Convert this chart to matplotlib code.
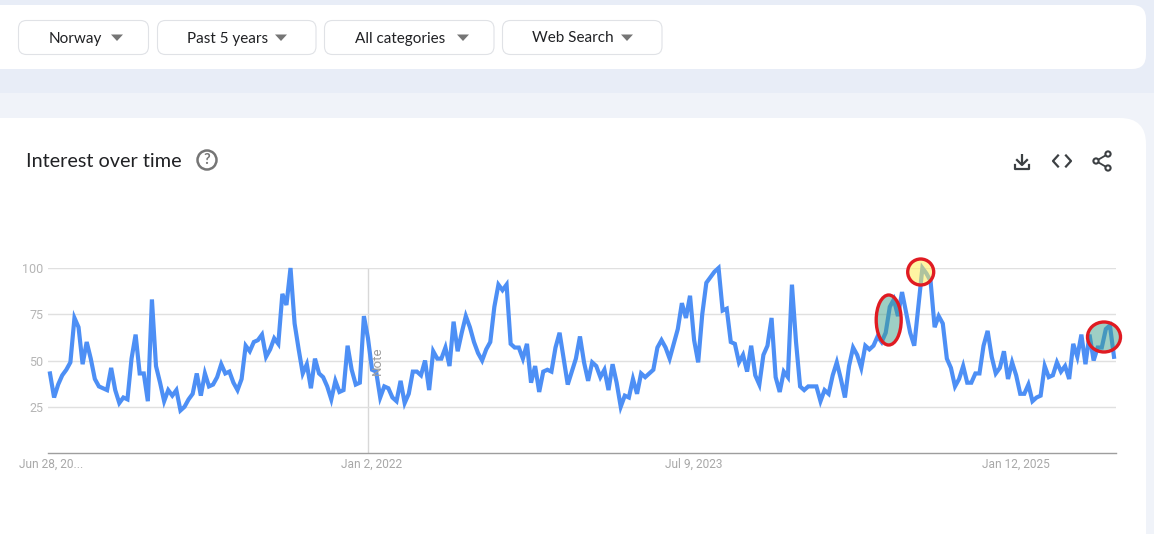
#!/usr/bin/python3

import numpy as np
import matplotlib as mpl
mpl.use('Agg')
import matplotlib.pyplot as plt
from matplotlib.patches import Ellipse, FancyBboxPatch, Polygon, Rectangle, Circle
from matplotlib.transforms import ScaledTranslation

W = 1154
H = 534

interest = [
  43, 30, 37, 42, 45, 49, 73, 68, 48, 60, 51, 40, 36, 35, 34, 46, 34, 27, 30, 29,
  51, 64, 43, 43, 28, 83, 47, 38, 28, 34, 31, 34, 23, 25, 29, 32, 43, 31, 43, 36,
  37, 41, 48, 43, 44, 38, 34, 40, 58, 55, 60, 61, 64, 52, 56, 62, 59, 86, 80, 100,
  70, 56, 43, 48, 35, 51, 43, 41, 36, 29, 39, 33, 34, 58, 45, 37, 38, 74, 62, 45,
  44, 30, 36, 35, 30, 28, 39, 27, 32, 44, 44, 42, 50, 34, 55, 51, 51, 57, 47, 71,
  55, 65, 74, 68, 60, 54, 50, 56, 60, 79, 91, 88, 91, 59, 57, 57, 51, 59, 38, 47,
  33, 44, 45, 44, 57, 65, 51, 37, 44, 51, 63, 49, 39, 49, 47, 41, 45, 34, 48, 38,
  25, 31, 30, 40, 32, 43, 41, 43, 45, 57, 61, 57, 51, 59, 67, 81, 73, 85, 61, 49,
  75, 92, 95, 98, 100, 77, 78, 60, 59, 49, 53, 44, 58, 42, 37, 53, 58, 73, 41, 33,
  44, 41, 91, 60, 36, 34, 36, 36, 36, 28, 34, 32, 42, 49, 40, 30, 47, 57, 53, 46,
  58, 56, 58, 63, 60, 65, 79, 83, 74, 87, 76, 65, 58, 79, 100, 97, 93, 68, 74, 70,
  51, 46, 36, 40, 47, 38, 38, 43, 43, 58, 66, 52, 43, 46, 55, 40, 49, 42, 32, 32,
  37, 28, 30, 31, 47, 41, 42, 49, 44, 47, 40, 59, 52, 64, 48, 64, 50, 57, 57, 67,
  69, 52,
]

y_ticks = [25, 50, 75, 100]
x_tick_weeks = [0, 78, 157, 236]
x_tick_labels = ['Jun 28, 20...', 'Jan 2, 2022', 'Jul 9, 2023', 'Jan 12, 2025']
note_week = 78

filters = ['Norway', 'Past 5 years', 'All categories', 'Web Search']

UI_FONT = 'Lato'
TICK_FONT = 'Roboto'
LINE_BLUE = '#4d8ff5'
GRID = '#e0e0e0'
RED = '#e01b22'

fig = plt.figure(figsize=(W / 100.0, H / 100.0), dpi=100)

# page in pixel coordinates
bg = fig.add_axes([0, 0, 1, 1])
bg.set_xlim(0, W)
bg.set_ylim(H, 0)
bg.axis('off')


def card(ax, x0, y0, x1, y1, r, fc='white', ec='none', lw=1):
  ax.add_patch(FancyBboxPatch((x0 + r, y0 + r), x1 - x0 - 2 * r, y1 - y0 - 2 * r,
    boxstyle='round,pad=%f,rounding_size=%f' % (r, r),
    fc=fc, ec=ec, lw=lw))


bg.add_patch(Rectangle((0, 0), W, 93, fc='#e8edf7', ec='none'))
bg.add_patch(Rectangle((0, 93), W, H - 93, fc='#f0f3f9', ec='none'))
card(bg, -40, 5, 1146, 69, 14)
card(bg, -40, 118, 1146, 600, 26)

# filter buttons
button_edges = [(18.5, 148.5), (157.5, 316), (324.5, 494), (502.5, 662)]
text_x = [75, 228, 400, 573]
arrow_x = [117, 281, 463, 627]
for name, (x0, x1), tx, ax_ in zip(filters, button_edges, text_x, arrow_x):
  card(bg, x0, 20.5, x1, 54.5, 8, fc='white', ec='#e0e2e6', lw=0.8)
  bg.text(tx, 42.5, name, ha='center', va='baseline', fontsize=11, color='#202124',
    family=UI_FONT)
  bg.add_patch(Polygon([(ax_ - 6, 34.5), (ax_ + 6, 34.5), (ax_, 41)], fc='#757575', ec='none'))

bg.text(26.5, 167, 'Interest over time', ha='left', va='baseline', fontsize=14.3,
  color='#202124', family=UI_FONT)
bg.add_patch(Circle((207, 160), 9.5, fc='none', ec='#757575', lw=1.8))
bg.text(207, 160.5, '?', ha='center', va='center', fontsize=10.5, color='#757575',
  family=UI_FONT, fontweight='bold')

# download icon
ICON = '#3c4043'
bg.plot([1022, 1022], [154, 165], color=ICON, lw=1.6, solid_capstyle='butt')
bg.plot([1017, 1022, 1027], [160, 165, 160], color=ICON, lw=1.6)
bg.plot([1015, 1015, 1029, 1029], [165, 169, 169, 165], color=ICON, lw=1.6)
# embed icon
bg.plot([1058, 1053, 1058], [155.5, 161, 166.5], color=ICON, lw=1.6)
bg.plot([1066, 1071, 1066], [155.5, 161, 166.5], color=ICON, lw=1.6)
# share icon
bg.plot([1108, 1096, 1108], [154, 161, 168], color=ICON, lw=1.3)
for cx, cy in [(1108, 154), (1096, 161), (1108, 168)]:
  bg.add_patch(Circle((cx, cy), 2.6, fc='white', ec=ICON, lw=1.5, zorder=3))

# chart area, value 0 sits on the pixel row 453 and value 100 on row 268
X0 = 50.0
X1 = 1114.0
LEFT = 48.0
RIGHT = 1116.0
BOTTOM = 453.0
TOP = 268.0

ax = fig.add_axes([LEFT / W, 1 - BOTTOM / H, (RIGHT - LEFT) / W, (BOTTOM - TOP) / H])
ax.patch.set_alpha(0)
weeks = np.arange(len(interest))
step = (X1 - X0) / (len(interest) - 1)
ax.set_xlim(-(X0 - LEFT) / step, (RIGHT - X0) / step)
ax.set_ylim(0, 100)

for s in ['top', 'left', 'right']:
  ax.spines[s].set_visible(False)
ax.spines['bottom'].set_color('#9e9e9e')
ax.spines['bottom'].set_linewidth(1)

ax.set_yticks(y_ticks)
ax.set_yticklabels([str(v) for v in y_ticks], color='#b5b5b5', fontsize=9, family=TICK_FONT)
ax.set_xticks(x_tick_weeks)
ax.set_xticklabels(x_tick_labels, color='#a8a8a8', fontsize=8.6, family=TICK_FONT)
ax.tick_params(axis='both', length=0)
ax.tick_params(axis='y', pad=3.5)
ax.tick_params(axis='x', pad=3.5)
# the date labels sit a little right of their week
for i, label in enumerate(ax.get_xticklabels()):
  nudge = 1 if i == 0 else 4
  label.set_transform(label.get_transform() + ScaledTranslation(nudge / 100.0, 0, fig.dpi_scale_trans))
ax.grid(axis='y', color=GRID, lw=1, zorder=0)
ax.axvline(note_week, color='#d8d8d8', lw=1, zorder=1)
ax.text(note_week + 2.2, 50, 'Note', rotation=90, ha='center', va='center',
  fontsize=9.5, color='#9e9e9e', family=TICK_FONT, zorder=4)

ax.plot(weeks, interest, color=LINE_BLUE, lw=3, solid_joinstyle='miter', zorder=3, clip_on=False)

# hand drawn highlights on top of the screenshot
over = fig.add_axes([0, 0, 1, 1])
over.set_xlim(0, W)
over.set_ylim(H, 0)
over.axis('off')
over.patch.set_alpha(0)

for cx, cy, w, h, color, alpha in [
  (888.7, 320, 25, 50, '#3fa08a', 0.5),
  (920.7, 272, 26, 26, '#ffee58', 0.55),
  (1104, 337, 33, 30, '#3fa08a', 0.5),
]:
  over.add_patch(Ellipse((cx, cy), w, h, fc=mpl.colors.to_rgba(color, alpha), ec=RED, lw=2.4))

fig.savefig('out.png', dpi=100)
